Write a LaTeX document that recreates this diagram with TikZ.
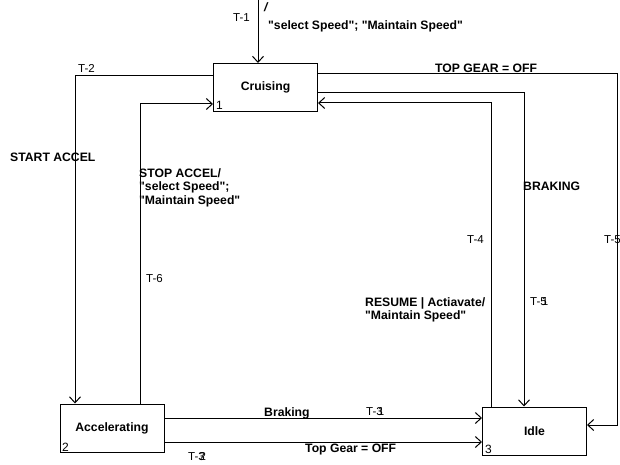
\documentclass[tikz,border=0pt]{standalone}
\usepackage{fontspec}
\setmainfont{Liberation Sans}
\usetikzlibrary{arrows.meta}
\newcommand\qd{\textquotedbl}
\begin{document}
\begin{tikzpicture}[x=1pt,y=1pt,
  state/.style={draw, line width=1pt, minimum width=104pt, minimum height=48pt, inner sep=0pt, font=\fontsize{12.2}{13.5}\selectfont\bfseries},
  conn/.style={line width=1pt, -{Straight Barb[length=6pt,width=11pt,line width=1pt]}},
  blab/.style={inner sep=0pt, font=\fontsize{12.2}{13.5}\selectfont\bfseries, align=left},
  rlab/.style={inner sep=0pt, font=\fontsize{11.5}{13}\selectfont},
  dlab/.style={inner sep=0pt, font=\fontsize{12}{13}\selectfont}]
\useasboundingbox (0,0) rectangle (620,-465);
% states
\node[state] (cru) at (265.5,-87.5) {Cruising};
\node[state] (acc) at (112,-428) {Accelerating};
\node[state] (idle) at (534.5,-431) {Idle};
\node[dlab, anchor=base west] (n1) at (216,-110) {1};
\node[dlab, anchor=base west] (n2) at (62,-451) {2};
\node[dlab, anchor=base west] (n3) at (485,-453) {3};
% T-1
\coordinate (t1s) at (258,0);
\draw[conn] (t1s) -- (t1s |- cru.north);
\node[rlab, anchor=base west] (lt1) at (233,-22) {T-1};
\node[blab, anchor=base west] (lt1s) at (264,-12) {\itshape /};
\node[blab, anchor=base west] (lt1a) at (268,-30) {\qd select Speed\qd; \qd Maintain Speed\qd};
% T-2
\draw[conn] ([yshift=12pt]cru.west) -| ([xshift=-37pt]acc.north);
\node[rlab, anchor=base west] (lt2) at (78,-73) {T-2};
\node[blab, anchor=base west] (lt2a) at (10,-161) {START ACCEL};
% T-6
\draw[conn] ([xshift=28pt]acc.north) |- ([yshift=-16.5pt]cru.west);
\node[blab, anchor=north west] (lt6a) at (139,-168) {STOP ACCEL/\\\qd select Speed\qd;\\\qd Maintain Speed\qd};
\node[rlab, anchor=base west] (lt6) at (146,-282) {T-6};
% T-5 right (TOP GEAR = OFF)
\node[rlab, anchor=base west] (lt5r) at (604,-243) {T-5};
\coordinate (r1) at (617,-74);
\draw[conn] ([yshift=13.5pt]cru.east) -- (r1) |- ([yshift=6pt]idle.east);
\node[blab, anchor=base west] (lt5a) at (435,-72.5) {TOP GEAR = OFF};
% T-51 (BRAKING)
\draw[conn] ([yshift=-5pt]cru.east) -| ([xshift=-10.5pt]idle.north);
\node[blab, anchor=base west] (lt51a) at (523,-190) {BRAKING};
\node[rlab, anchor=base west] (lt51) at (530,-305) {T-5\kern-0.42em 1};
% T-4 (RESUME)
\draw[conn] ([xshift=-43.5pt]idle.north) |- ([yshift=-15.5pt]cru.east);
\node[rlab, anchor=base west] (lt4) at (467,-243) {T-4};
\node[blab, anchor=north west] (lt4a) at (365,-297) {RESUME | Actiavate/\\\qd Maintain Speed\qd};
% T-31 (Braking)
\draw[conn] ([yshift=10pt]acc.east) -- ([yshift=10pt]acc.east -| idle.west);
\node[blab, anchor=base west] (lt31a) at (264,-416.5) {Braking};
\node[rlab, anchor=base west] (lt31) at (366,-415) {T-3\kern-0.42em 1};
% T-32 (Top Gear = OFF)
\draw[conn] ([yshift=-14pt]acc.east) -- ([yshift=-14pt]acc.east -| idle.west);
\node[blab, anchor=base west] (lt32a) at (305,-452) {Top Gear = OFF};
\node[rlab, anchor=base west] (lt32) at (188,-460) {T-3\kern-0.45em 2};
\end{tikzpicture}
\end{document}
